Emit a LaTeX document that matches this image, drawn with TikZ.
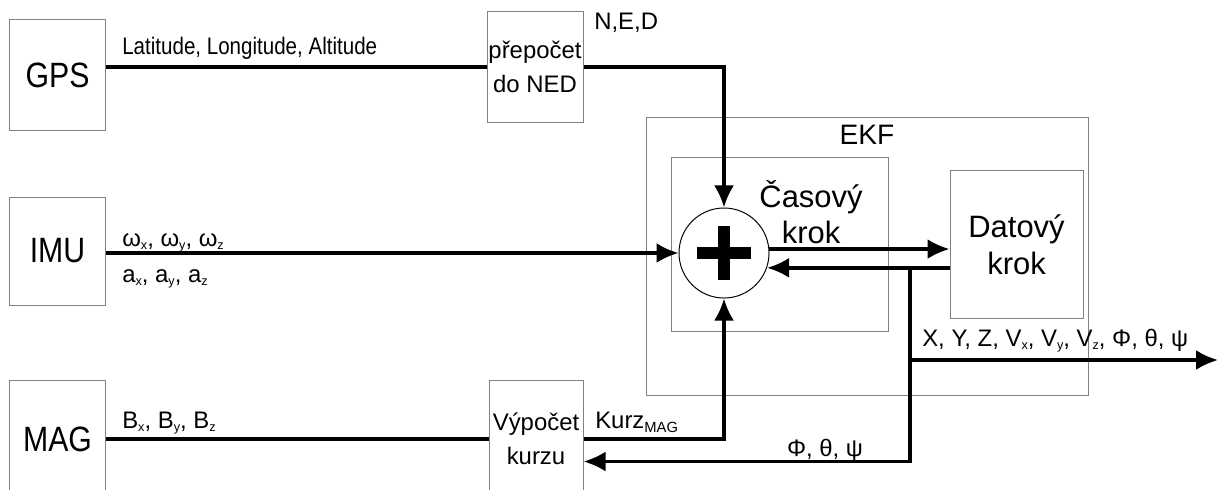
\documentclass[tikz,border=0pt]{standalone}
\usepackage{fontspec}
\setmainfont{Liberation Sans}
\newfontfamily\narrowfont{Liberation Sans}[FakeStretch=0.86]
\usetikzlibrary{arrows.meta, positioning}

\newcommand{\lidx}[1]{\raisebox{-2.5pt}{\fontsize{9}{9}\selectfont #1}}

\begin{document}
\begin{tikzpicture}[
x=0.025cm, y=-0.025cm,
block/.style={draw=gray, line width=0.7pt, align=center, inner sep=0pt, font=\fontsize{17}{24}\selectfont},
sensor/.style={block, minimum width=2.375cm, minimum height=2.75cm, font=\narrowfont\fontsize{25}{28}\selectfont},
title/.style={align=center, inner sep=0pt, font=\fontsize{22}{26}\selectfont},
lbl/.style={inner sep=0pt, font=\fontsize{17}{20}\selectfont},
link/.style={line width=2.4pt},
arrow/.style={-{Latex[length=5.5mm, width=5mm]}, line width=2.4pt}
]
\useasboundingbox (0,0) rectangle (1220,489);
\clip (0,0) rectangle (1220,489);

\node[sensor] (gps) at (57.5,75) {GPS};
\node[sensor, minimum height=2.7cm] (imu) at (57.5,251) {IMU};
\node[sensor, minimum height=2.95cm] (mag) at (57.5,439) {MAG};
\node[block, minimum width=2.4cm, minimum height=2.75cm] (ned) at (535,67) {přepočet\\do NED};
\node[block, minimum width=2.35cm, minimum height=2.95cm] (kurz) at (536,439) {Výpočet\\kurzu};

\node[block, minimum width=11.025cm, minimum height=6.925cm] (ekf) at (867.5,256.5) {};
\node[block, minimum width=5.4cm, minimum height=4.325cm] (cas) at (780,244.5) {};
\node[block, minimum width=3.325cm, minimum height=3.675cm, font=\fontsize{22}{26}\selectfont] (dat) at (1016.5,244.5) {Datový\\krok};
\node[title, font=\fontsize{20}{24}\selectfont] (ekflbl) at (867,135) {EKF};
\node[title] (caslbl) at (811,212) {Časový\\krok};
\node[circle, draw, line width=0.7pt, fill=white, minimum size=2.25cm, inner sep=0pt] (sum) at (724,253) {};
\draw[line width=8pt] (sum.center) +(-27,0) -- +(27,0) (sum.center) +(0,-27) -- +(0,27);

\coordinate (split) at (910,268);
\coordinate (out) at (1218,360);

\draw[link] (gps.east |- ned.west) -- (ned.west);
\draw[arrow] (ned.east) -| (sum.north);
\draw[arrow] (imu.east |- sum.west) -- (sum.west);
\draw[link] (mag.east) -- (kurz.west);
\draw[arrow] (kurz.east) -| (sum.south);
\draw[arrow] (sum.5) -- (sum.5 -| dat.west);
\draw[arrow] (dat.west |- sum.-19) -- (sum.-19);
\draw[arrow] (split) |- ([yshift=-16pt]kurz.east);
\draw[arrow] (split |- out) -- (out);

\node[lbl, anchor=base west, font=\narrowfont\fontsize{17}{20}\selectfont] (lla) at (122,54) {Latitude, Longitude, Altitude};
\node[lbl, anchor=base west] (nedlbl) at (594,29) {N,E,D};
\node[lbl, anchor=base west] (gyro) at (122,246) {ω\lidx{x}, ω\lidx{y}, ω\lidx{z}};
\node[lbl, anchor=base west] (acc) at (122,282) {a\lidx{x}, a\lidx{y}, a\lidx{z}};
\node[lbl, anchor=base west] (bfield) at (122,428) {B\lidx{x}, B\lidx{y}, B\lidx{z}};
\node[lbl, anchor=base west] (kurzmag) at (595,428) {Kurz\raisebox{-3pt}{\fontsize{10.5}{10}\selectfont MAG}};
\node[lbl, anchor=base] (att) at (825,456) {Φ, θ, ψ};
\node[lbl, anchor=base west] (state) at (922,346) {X, Y, Z, V\lidx{x}, V\lidx{y}, V\lidx{z}, Φ, θ, ψ};
\end{tikzpicture}
\end{document}
